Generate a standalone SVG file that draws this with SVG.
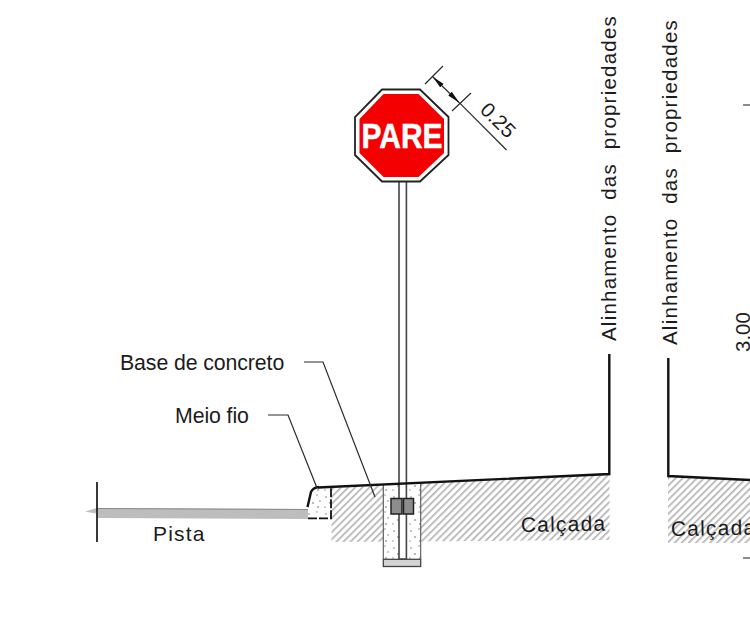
<svg xmlns="http://www.w3.org/2000/svg" width="750" height="630" viewBox="0 0 750 630">
<style>
text{font-family:"Liberation Sans",Arial,sans-serif;fill:#1c1c1c}
.cad{font-size:20.500px;letter-spacing:1.200px}
.lab{font-size:21.300px;letter-spacing:-.1px}
.thick{fill:none;stroke:#111;stroke-width:2.400}
.thin{fill:none;stroke:#2a2a2a;stroke-width:1.200}
.conc{fill:url(#conc);stroke:none}
.plate{fill:#8d8d8d;stroke:#222;stroke-width:1.500}
</style>
<defs>
<pattern id="hatch" width="5" height="5" patternUnits="userSpaceOnUse" patternTransform="rotate(45)">
<rect width="5" height="5" fill="#fff"/><rect x="0" width="1.700" height="5" fill="#b4b4b4"/>
</pattern>
<pattern id="conc" width="17" height="17" patternUnits="userSpaceOnUse">
<rect width="17" height="17" fill="#fff"/>
<circle cx="3" cy="4" r="1" fill="#b0b0b0"/><circle cx="11" cy="2" r=".9" fill="#bbb"/><circle cx="7" cy="10" r="1.100" fill="#aaa"/><circle cx="14" cy="8" r=".9" fill="#b0b0b0"/><circle cx="2" cy="14" r=".9" fill="#bbb"/><circle cx="12" cy="14" r="1.100" fill="#aaa"/>
</pattern>
<marker id="tick" markerWidth="13" markerHeight="7" refX="13" refY="3.500" orient="auto-start-reverse" markerUnits="userSpaceOnUse"><path d="M0 1 13 3.500 0 6Z" fill="#111"/></marker>
</defs>
<g id="hatching">
<path d="M331.500 488 609.500 474V540H606L331.500 542Z" fill="url(#hatch)"/>
<path d="M668 476 750 480V543H668Z" fill="url(#hatch)"/>
</g>
<g id="pista">
<path d="M85 511.500 97 508 308 509V519L97 518 96 513.500Z" fill="#bdbdbd"/>
<path d="M97 508.500 308 509.500" stroke="#8a8a8a" stroke-width="1.200" fill="none"/>
<path d="M97 482V542" stroke="#222" stroke-width="1.800"/>
<text class="cad" x="153" y="541" style="font-size:21px">Pista</text>
</g>
<g id="meio-fio">
<path class="conc" d="M308 518V506L312 490Q314 487 319 487H331V518Z"/>
<path d="M307.500 507 311 492Q313 487.500 319 487" class="thick"/>
<path d="M308 518.300H331V488" fill="none" stroke="#111" stroke-width="1.800" stroke-dasharray="9 2"/>
</g>
<g id="base-de-concreto">
<rect class="conc" x="383.300" y="484" width="37.400" height="75"/>
<rect x="383.300" y="559.300" width="37.400" height="7.200" fill="#d4d4d4" stroke="#444" stroke-width="1.300"/>
<path d="M383.300 484V559M420.700 484V559" stroke="#555" stroke-width="1.100" fill="none"/>
</g>
<g id="poste">
<rect x="399" y="181" width="7.400" height="378" fill="#fff" stroke="#444" stroke-width="1.600"/>
</g>
<g id="plates">
<rect class="plate" x="391" y="498.500" width="11" height="15.500"/>
<rect class="plate" x="403.500" y="498.500" width="10" height="15.500"/>
</g>
<g id="terreno">
<path class="thick" d="M318 487.500 609.300 474V354"/>
<path class="thick" d="M668.300 358V476L750 480"/>
</g>
<g id="placa-pare">
<path d="M382 89.500H420L448.500 117V155L420 181.500H382L355 155V117Z" fill="#fff" stroke="#222" stroke-width="1.800"/>
<path d="M383.500 94H418.500L444 119V153L418.500 177H383.500L359.500 153V119Z" fill="#f40000"/>
<text x="402" y="147.500" text-anchor="middle" font-size="35" font-weight="bold" style="fill:#fff;stroke:#fff;stroke-width:.5" textLength="81" lengthAdjust="spacingAndGlyphs">PARE</text>
</g>
<g id="connectors">
<path class="thin" d="M304 362H323L375 497"/>
<path class="thin" d="M268 415H288L317 488"/>
<path class="thin" d="M425 84 443 66M452 111 471 93"/>
<path class="thin" d="M432.700 76.700 459.300 102.700" marker-start="url(#tick)" marker-end="url(#tick)"/>
<path class="thin" d="M459.300 102.700 506.500 150"/>
<path d="M743 105H750M743 558H750" stroke="#666" stroke-width="1.400"/>
</g>
<g id="labels">
<text class="lab" x="120" y="370">Base de concreto</text>
<text class="lab" x="175" y="423">Meio fio</text>
<text class="cad" x="521" y="532" transform="rotate(-1 521 532)" style="font-size:21px">Calçada</text>
<text class="cad" x="671" y="536" transform="rotate(-1 671 536)" style="font-size:21px">Calçada</text>
<text font-size="20.500" transform="translate(479 111) rotate(45)">0.25</text>
<text font-size="20.500" transform="translate(750 352) rotate(-90)">3.00</text>
<text class="cad" transform="translate(615.500 341) rotate(-90)" xml:space="preserve" textLength="326">Alinhamento  das  propriedades</text>
<text class="cad" transform="translate(677 345) rotate(-90)" xml:space="preserve" textLength="326">Alinhamento  das  propriedades</text>
</g>
</svg>
